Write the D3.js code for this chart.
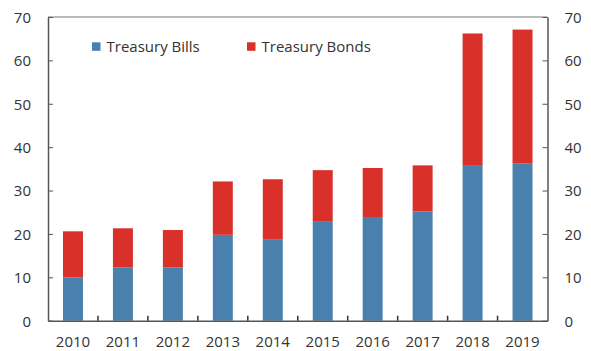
<!DOCTYPE html>
<html>
<head>
<meta charset="utf-8">
<script src="https://cdn.jsdelivr.net/npm/d3@7"></script>
<style>
  html, body { margin: 0; padding: 0; background: #fff; }
  svg { display: block; }
  text { font-family: "Open Sans", "DejaVu Sans", sans-serif; fill: #333; }
</style>
</head>
<body>
<svg id="chart" width="591" height="351"></svg>
<script>
// Issuance by year, stacked: bills at the base, bonds on top
const years = ["2010", "2011", "2012", "2013", "2014", "2015", "2016", "2017", "2018", "2019"];
const bills = [10.0, 12.3, 12.3, 19.8, 18.8, 22.8, 23.9, 25.2, 35.7, 36.2];
const bonds = [10.6, 9.0, 8.6, 12.3, 13.8, 11.9, 11.3, 10.6, 30.5, 30.9];
const yTicks = [0, 10, 20, 30, 40, 50, 60, 70];
const seriesNames = ["Treasury Bills", "Treasury Bonds"];
const colors = ["#4a80ae", "#d9302a"];

const svg = d3.select("#chart");
const margin = { left: 48, right: 43.5, top: 17, bottom: 30.3 };
const W = 591, H = 351;
const iw = W - margin.left - margin.right;
const ih = H - margin.top - margin.bottom;
const fontSize = "15px";

const rows = years.map((y, i) => ({ year: y, bills: bills[i], bonds: bonds[i] }));
const stack = d3.stack().keys(["bills", "bonds"])(rows);

const x = d3.scaleBand().domain(years).range([0, iw]).paddingInner(0.6).paddingOuter(0.3);
const y = d3.scaleLinear().domain([0, 70]).range([ih, 0]);

const g = svg.append("g").attr("transform", `translate(${margin.left},${margin.top})`);

// Bars
g.selectAll("g.series")
  .data(stack)
  .join("g")
  .attr("class", "series")
  .attr("fill", (d, i) => colors[i])
  .selectAll("rect")
  .data(d => d)
  .join("rect")
  .attr("x", d => x(d.data.year))
  .attr("width", x.bandwidth())
  .attr("y", d => y(d[1]))
  .attr("height", d => y(d[0]) - y(d[1]));

// Frame: top border
g.append("line")
  .attr("x1", 0).attr("x2", iw).attr("y1", 0).attr("y2", 0)
  .attr("stroke", "#777").attr("stroke-width", 1);

// Left axis (ticks inward)
const left = g.append("g")
  .call(d3.axisLeft(y).tickValues(yTicks).tickSizeInner(-5).tickSizeOuter(0));
// Right axis (ticks inward)
const right = g.append("g")
  .attr("transform", `translate(${iw},0)`)
  .call(d3.axisRight(y).tickValues(yTicks).tickSizeInner(-5).tickSizeOuter(0));
// Bottom axis; separators at category boundaries point up
const bottom = g.append("g")
  .attr("transform", `translate(0,${ih})`)
  .call(d3.axisBottom(x).tickSize(0).tickPadding(15.5));

bottom.selectAll("line.sep")
  .data(d3.range(1, years.length))
  .join("line")
  .attr("class", "sep")
  .attr("x1", i => (x(years[i - 1]) + x(years[i]) + x.bandwidth()) / 2)
  .attr("x2", i => (x(years[i - 1]) + x(years[i]) + x.bandwidth()) / 2)
  .attr("y1", 0).attr("y2", -5)
  .attr("stroke", "#333").attr("stroke-width", 1.5);

[left, right, bottom].forEach(a => {
  a.select(".domain").attr("stroke", "#555").attr("stroke-width", 1.5);
  a.selectAll(".tick line").attr("stroke", "#555").attr("stroke-width", 1);
  a.selectAll(".tick text").style("font-size", fontSize).attr("fill", "#333")
    .style("font-family", '"Open Sans", "DejaVu Sans", sans-serif');
});
left.selectAll(".tick text").attr("x", -17).attr("dy", "0.36em");
right.selectAll(".tick text").attr("x", 17).attr("dy", "0.36em");

// Legend
const legendX = [44, 199];
const legend = g.selectAll("g.legend")
  .data(seriesNames)
  .join("g")
  .attr("class", "legend")
  .attr("transform", (d, i) => `translate(${legendX[i]},25.3)`);
legend.append("rect")
  .attr("width", 8.5).attr("height", 8.5)
  .attr("fill", (d, i) => colors[i]);
legend.append("text")
  .attr("x", 14.5).attr("y", 10)
  .style("font-size", fontSize)
  .text(d => d);
</script>
</body>
</html>
